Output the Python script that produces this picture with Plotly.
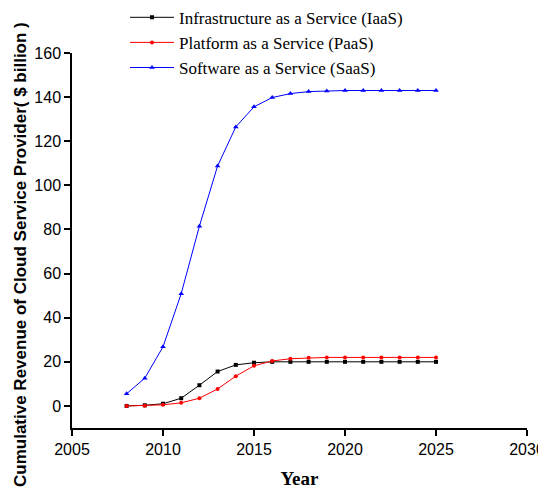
import plotly.graph_objects as go

years = list(range(2008, 2026))
iaas = [0, 0.3, 1.0, 3.5, 9.4, 15.6, 18.6, 19.6, 20, 20, 20, 20, 20, 20, 20, 20, 20, 20]
paas = [0, 0.1, 0.5, 1.4, 3.5, 7.7, 13.5, 18.2, 20.4, 21.4, 21.8, 22, 22, 22, 22, 22, 22, 22]
saas = [5.5, 12.6, 26.8, 50.9, 81.5, 108.8, 126.5, 135.6, 139.8, 141.6, 142.5, 142.8, 143, 143, 143, 143, 143, 143]

names = ["Infrastructure as a Service (IaaS)",
         "Platform as a Service (PaaS)",
         "Software as a Service (SaaS)"]
y_title = "<b>Cumulative Revenue of Cloud Service Provider( $ billion )</b>"

fig = go.Figure()
fig.add_trace(go.Scatter(x=years, y=iaas, name=names[0], mode="lines+markers",
                         line=dict(color="black", width=1),
                         marker=dict(symbol="square", size=4, color="black")))
fig.add_trace(go.Scatter(x=years, y=paas, name=names[1], mode="lines+markers",
                         line=dict(color="red", width=1),
                         marker=dict(symbol="circle", size=4, color="red")))
fig.add_trace(go.Scatter(x=years, y=saas, name=names[2], mode="lines+markers",
                         line=dict(color="blue", width=1),
                         marker=dict(symbol="triangle-up", size=5, color="blue")))

# page body has an 8px margin, so the figure is a bit smaller than the window
fig.update_layout(
    width=538, height=481,
    margin=dict(l=64, r=19, t=45, b=61, autoexpand=False),
    plot_bgcolor="white", paper_bgcolor="white",
    showlegend=True,
    legend=dict(x=0.1165, y=1.142, xanchor="left", yanchor="top",
                font=dict(family="Liberation Serif", size=17, color="black"),
                bgcolor="rgba(0,0,0,0)", tracegroupgap=0, itemwidth=44),
)
fig.add_annotation(text=y_title, textangle=-90, showarrow=False,
                   xref="paper", yref="paper", x=-0.1143, y=0.464,
                   xanchor="center", yanchor="middle",
                   font=dict(family="Liberation Sans", size=17, color="black"))
fig.update_xaxes(range=[2005, 2030], tickvals=[2005, 2010, 2015, 2020, 2025, 2030],
                 showline=True, linecolor="black", linewidth=1.5,
                 ticks="outside", ticklen=6, tickcolor="black", tickwidth=1.5,
                 showgrid=False, zeroline=False,
                 tickfont=dict(family="Liberation Sans", size=16, color="black"),
                 title=dict(text="<b>Year</b>", standoff=16,
                            font=dict(family="Liberation Serif", size=19, color="black")))
fig.update_yaxes(range=[-10, 160], tickvals=[0, 20, 40, 60, 80, 100, 120, 140, 160],
                 showline=True, linecolor="black", linewidth=1.5,
                 ticks="outside", ticklen=6, tickcolor="black", tickwidth=1.5,
                 showgrid=False, zeroline=False,
                 tickfont=dict(family="Liberation Sans", size=16, color="black"))

fig.write_html("out.html")
